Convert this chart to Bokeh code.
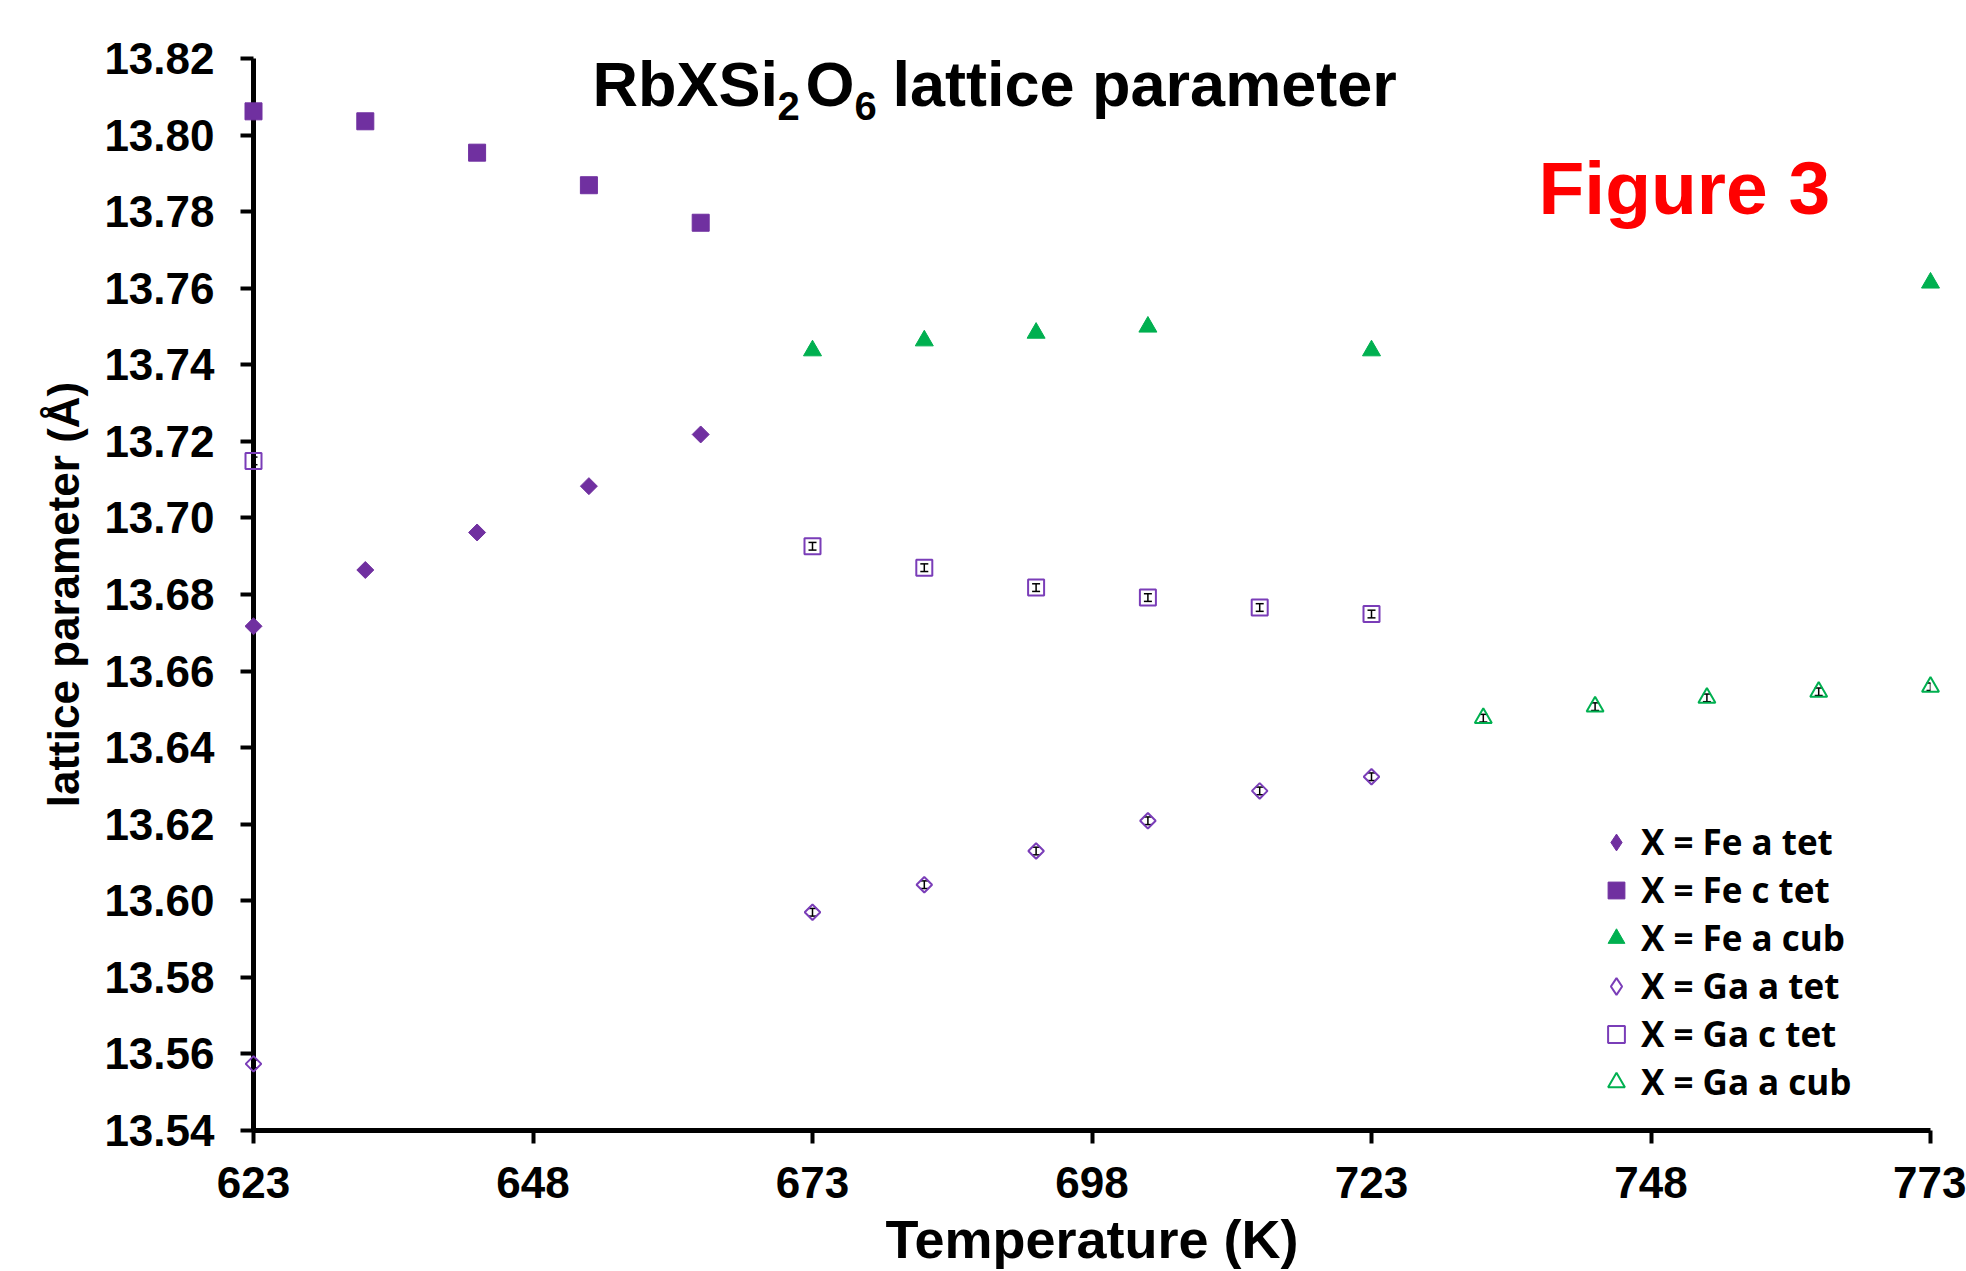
from bokeh.plotting import figure
from bokeh.models import (Range1d, FixedTicker, Legend, LegendItem, Label, Whisker,
                          ColumnDataSource, TeeHead, PrintfTickFormatter)
from bokeh.embed import file_html
from bokeh.resources import INLINE
import math

# ---------------- data ----------------
temp_fe_tet = [623, 633, 643, 653, 663]
fe_a_tet = [13.6717, 13.6864, 13.6962, 13.7083, 13.7218]
fe_c_tet = [13.8062, 13.8036, 13.7954, 13.7869, 13.7771]

temp_fe_cub = [673, 683, 693, 703, 723, 773]
fe_a_cub = [13.7437, 13.7463, 13.7483, 13.7499, 13.7437, 13.7614]
fe_a_cub_err = [0.0008, 0.0008, 0.0008, 0.0008, 0.0008, 0.0008]

temp_ga_tet = [623, 673, 683, 693, 703, 713, 723]
ga_a_tet = [13.5574, 13.5970, 13.6042, 13.6130, 13.6209, 13.6287, 13.6324]
ga_a_tet_err = [0.001, 0.001, 0.001, 0.001, 0.001, 0.001, 0.001]
ga_c_tet = [13.7149, 13.6926, 13.6870, 13.6818, 13.6792, 13.6766, 13.6749]
ga_c_tet_err = [0.001, 0.001, 0.001, 0.001, 0.001, 0.001, 0.001]

temp_ga_cub = [733, 743, 753, 763, 773]
ga_a_cub = [13.6477, 13.6507, 13.6530, 13.6546, 13.6559]
ga_a_cub_err = [0.001, 0.001, 0.001, 0.001, 0.001]

x_ticks = [623, 648, 673, 698, 723, 748, 773]
y_ticks = [13.54, 13.56, 13.58, 13.60, 13.62, 13.64, 13.66, 13.68, 13.70,
           13.72, 13.74, 13.76, 13.78, 13.80, 13.82]

series_labels = ["X = Fe a tet", "X = Fe c tet", "X = Fe a cub",
                 "X = Ga a tet", "X = Ga c tet", "X = Ga a cub"]

title_parts = ["RbXSi", "2", "O", "6", "lattice parameter"]
x_title = "Temperature (K)"
y_title = "lattice parameter (Å)"
fig_note = "Figure 3"

PURPLE = "#7030A0"
PURPLE_OPEN = "#7A3DB8"
GREEN = "#00B050"
FONT = "Liberation Sans"

# ---------------- figure ----------------
p = figure(width=1966, height=1271,
           min_border_left=253, min_border_top=58, min_border_right=36, min_border_bottom=141,
           x_range=Range1d(623, 773), y_range=Range1d(13.54, 13.82),
           output_backend="svg", toolbar_location=None)
p.outline_line_color = None
p.grid.visible = False
p.background_fill_color = "white"
p.border_fill_color = "white"

p.xaxis.ticker = FixedTicker(ticks=x_ticks)
p.yaxis.ticker = FixedTicker(ticks=y_ticks)
p.yaxis.formatter = PrintfTickFormatter(format="%.2f")
for ax in (p.xaxis[0], p.yaxis[0]):
    ax.minor_tick_line_color = None
    ax.major_tick_in = 0
    ax.major_tick_out = 13
    ax.major_tick_line_width = 4
    ax.major_tick_line_color = "black"
    ax.axis_line_color = "black"
    ax.axis_line_width = 5
    ax.major_label_text_font = FONT
    ax.major_label_text_font_style = "bold"
    ax.major_label_text_color = "black"
    ax.major_label_text_font_size = "44px"
    ax.axis_label_text_font = FONT
    ax.axis_label_text_font_style = "bold"
    ax.axis_label_text_color = "black"
p.yaxis.major_label_standoff = 26
p.xaxis.major_label_standoff = 23
p.xaxis.axis_label = x_title
p.yaxis.axis_label = y_title
p.xaxis.axis_label_text_font_size = "54px"
p.yaxis.axis_label_text_font_size = "44px"
p.xaxis.axis_label_standoff = 8
p.yaxis.axis_label_standoff = 13

# error bars (drawn under markers)
def add_err(xs, ys, es):
    src = ColumnDataSource(dict(x=xs, lo=[y - e for y, e in zip(ys, es)],
                                hi=[y + e for y, e in zip(ys, es)]))
    w = Whisker(source=src, base="x", lower="lo", upper="hi",
                line_color="black", line_width=1.5,
                lower_head=TeeHead(size=8, line_width=1.5, line_color="black"),
                upper_head=TeeHead(size=8, line_width=1.5, line_color="black"))
    p.add_layout(w)

add_err(temp_fe_cub, fe_a_cub, fe_a_cub_err)
add_err(temp_ga_tet, ga_a_tet, ga_a_tet_err)
add_err(temp_ga_tet, ga_c_tet, ga_c_tet_err)
add_err(temp_ga_cub, ga_a_cub, ga_a_cub_err)

DIAMOND_ANGLE = math.pi / 4
r1 = p.scatter(temp_fe_tet, fe_a_tet, marker="square", angle=DIAMOND_ANGLE, size=12,
               fill_color=PURPLE, line_color=PURPLE, line_width=1, level="overlay")
r2 = p.scatter(temp_fe_tet, fe_c_tet, marker="square", size=17,
               fill_color=PURPLE, line_color=PURPLE, line_width=1, level="overlay")
r3 = p.scatter(temp_fe_cub, fe_a_cub, marker="triangle", size=18,
               fill_color=GREEN, line_color=GREEN, line_width=1, level="overlay")
r4 = p.scatter(temp_ga_tet, ga_a_tet, marker="square", angle=DIAMOND_ANGLE, size=11,
               fill_color=None, line_color=PURPLE_OPEN, line_width=2, level="overlay")
r5 = p.scatter(temp_ga_tet, ga_c_tet, marker="square", size=16,
               fill_color=None, line_color=PURPLE_OPEN, line_width=2, level="overlay")
r6 = p.scatter(temp_ga_cub, ga_a_cub, marker="triangle", size=17,
               fill_color=None, line_color=GREEN, line_width=2, level="overlay")

# key symbols for the two diamond series (hidden in the plot; shown in the legend only)
k1 = p.scatter(temp_fe_tet, fe_a_tet, marker="diamond", fill_color=PURPLE,
               line_color=PURPLE, line_width=1, visible=False)
k4 = p.scatter(temp_ga_tet, ga_a_tet, marker="diamond", fill_color=None,
               line_color=PURPLE_OPEN, line_width=2, visible=False)

legend = Legend(items=[LegendItem(label=l, renderers=[r])
                       for l, r in zip(series_labels, [k1, r2, r3, k4, r5, r6])],
                location=(1342, 25), glyph_width=42, glyph_height=42,
                spacing=1, padding=10, label_standoff=4,
                label_text_font="Open Sans", label_text_font_style="bold",
                label_text_font_size="35px", label_text_color="black",
                label_height=40, inactive_fill_alpha=0,
                background_fill_alpha=0, border_line_color=None)
p.add_layout(legend)

# annotation positions, from page pixels of the reference frame
def dx(px):
    return 623 + (px - 253) / 1677 * 150

def dy(py):
    return 13.82 - (py - 58) / 1072 * 0.28

# text placed by its vertical middle: baseline - 0.3465 * font size
title_x = [592, 777, 805, 854, 892]
title_base = [105, 119, 105, 119, 105]
title_size = [63, 40, 63, 40, 63]
for t, xx, yy, fs in zip(title_parts, title_x, title_base, title_size):
    p.add_layout(Label(x=dx(xx), y=dy(yy - 0.3465 * fs), text=t, text_font=FONT,
                       text_font_style="bold", text_font_size=f"{fs}px",
                       text_color="black", text_baseline="middle",
                       text_align="left"))

p.add_layout(Label(x=dx(1538), y=dy(213 - 0.3465 * 75), text=fig_note, text_font=FONT,
                   text_font_style="bold", text_font_size="75px",
                   text_color="#FF0000", text_baseline="middle",
                   text_align="left"))

open("out.html", "w").write(file_html(p, INLINE))
